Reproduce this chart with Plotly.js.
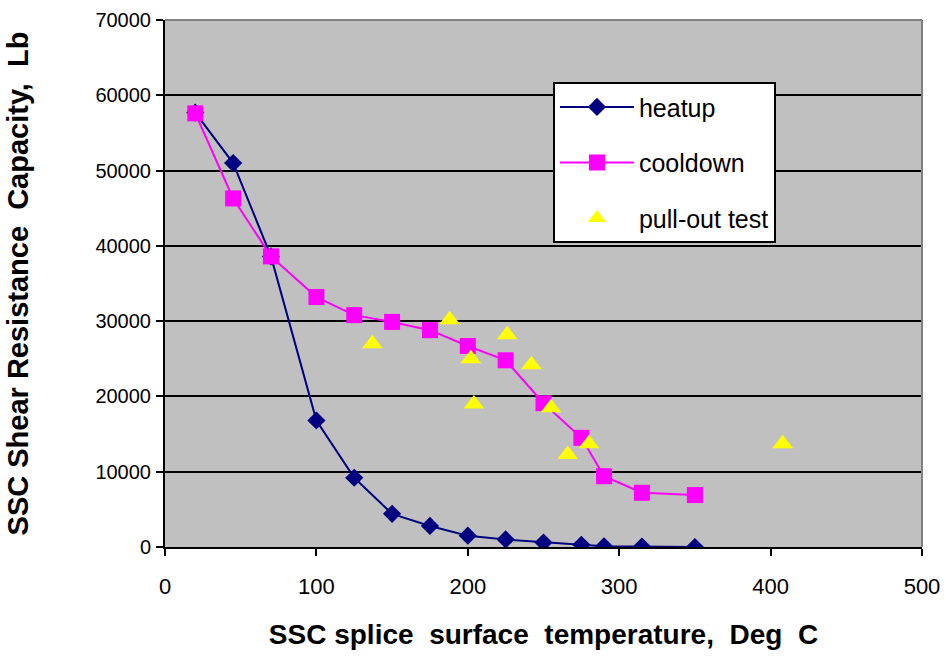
<!DOCTYPE html>
<html>
<head>
<meta charset="utf-8">
<script src="https://cdn.plot.ly/plotly-3.0.1.min.js"></script>
<style>html,body{margin:0;padding:0;background:#fff;}#chart{width:946px;height:658px;}</style>
</head>
<body>
<div id="chart"></div>
<script>
var heatupX = [20, 45, 70, 100, 125, 150, 175, 200, 225, 250, 275, 290, 315, 350];
var heatupY = [57700, 51000, 38600, 16800, 9200, 4400, 2800, 1500, 1000, 600, 300, 100, 50, 0];
var cooldownX = [20, 45, 70, 100, 125, 150, 175, 200, 225, 250, 275, 290, 315, 350];
var cooldownY = [57600, 46300, 38600, 33200, 30800, 29900, 28800, 26700, 24800, 19100, 14500, 9400, 7200, 6900];
var pulloutX = [137, 188, 202, 204, 226, 242, 255, 266, 280, 408];
var pulloutY = [27000, 30200, 25000, 19000, 28200, 24200, 18500, 12300, 13700, 13700];
var xTicks = [0, 100, 200, 300, 400, 500];
var yTicks = [0, 10000, 20000, 30000, 40000, 50000, 60000, 70000];

var traces = [
  {x: heatupX, y: heatupY, name: 'heatup', type: 'scatter', mode: 'lines+markers', legendgroup: 'a',
   line: {color: '#000080', width: 2}, marker: {symbol: 'diamond', size: 14, color: '#000080'}},
  {x: cooldownX, y: cooldownY, name: 'cooldown', type: 'scatter', mode: 'lines+markers', legendgroup: 'b',
   line: {color: '#FF00FF', width: 2}, marker: {symbol: 'square', size: 16, color: '#FF00FF'}},
  {x: pulloutX, y: pulloutY, name: 'pull-out test', type: 'scatter', mode: 'markers', legendgroup: 'c',
   marker: {symbol: 'triangle-up', size: 18, color: '#FFFF00'}}
];

var layout = {
  width: 946, height: 658,
  margin: {l: 165, r: 24, t: 20, b: 111},
  paper_bgcolor: '#ffffff',
  plot_bgcolor: '#C0C0C0',
  font: {family: 'Liberation Sans, Arial, sans-serif', color: '#000'},
  showlegend: true,
  legend: {x: 0.5125, y: 0.882, xanchor: 'left', yanchor: 'top', bgcolor: '#ffffff', bordercolor: '#000', borderwidth: 2,
    font: {size: 25, family: 'Liberation Sans, Arial, sans-serif'}, tracegroupgap: 20, itemwidth: 74},
  shapes: [
    {type: 'line', xref: 'paper', yref: 'paper', x0: 0, x1: 1, y0: 1, y1: 1, line: {color: '#808080', width: 2}, layer: 'above'},
    {type: 'line', xref: 'paper', yref: 'paper', x0: 1, x1: 1, y0: 0, y1: 1, line: {color: '#808080', width: 2}, layer: 'above'}
  ],
  xaxis: {range: [0, 500], tickvals: xTicks, ticktext: xTicks.map(String), showgrid: false, zeroline: false,
    showline: true, linecolor: '#000', linewidth: 2, ticks: 'outside', ticklen: 7, tickwidth: 2, tickcolor: '#000',
    tickfont: {size: 22}, ticklabelstandoff: 12,
    title: {text: 'SSC splice&nbsp; surface&nbsp; temperature,&nbsp; Deg&nbsp; C', font: {size: 28, weight: 'bold'}, standoff: 26}},
  yaxis: {range: [0, 70000], tickvals: yTicks, ticktext: yTicks.map(String), showgrid: true, gridcolor: '#000', gridwidth: 2,
    zeroline: false, showline: true, linecolor: '#000', linewidth: 2, ticks: 'outside', ticklen: 7, tickwidth: 2, tickcolor: '#000',
    tickfont: {size: 20}, ticklabelstandoff: 1,
    title: {text: 'SSC Shear Resistance&nbsp; Capacity,&nbsp; Lb', font: {size: 29, weight: 'bold'}, standoff: 58}}
};

Plotly.newPlot('chart', traces, layout, {displayModeBar: false, staticPlot: true});
</script>
</body>
</html>
